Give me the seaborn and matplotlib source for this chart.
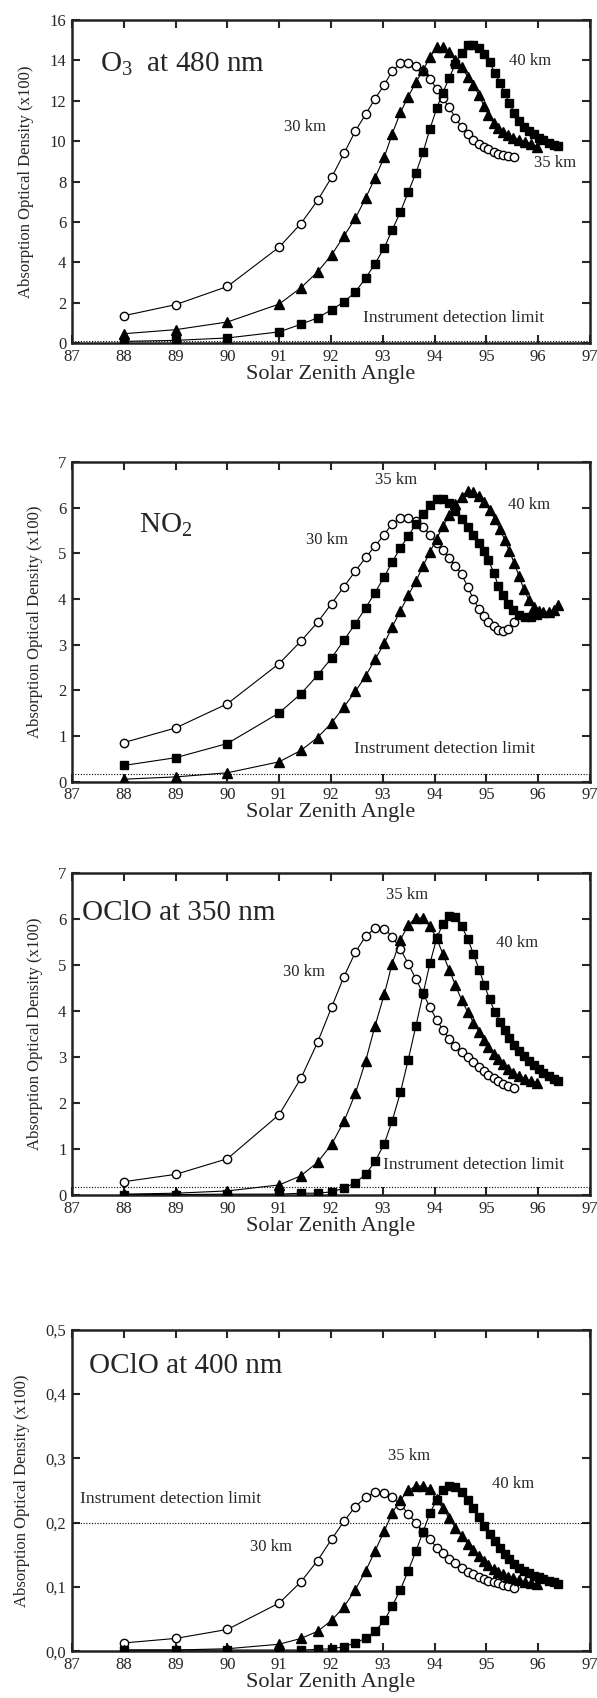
import matplotlib
matplotlib.use('Agg')
import matplotlib.pyplot as plt
import seaborn as sns
from matplotlib.ticker import MultipleLocator, FuncFormatter

# solar zenith angles of the three tangent altitudes
sza_30 = [88, 89, 90, 91, 91.42, 91.74, 92.01, 92.25, 92.47, 92.67, 92.85, 93.03, 93.18, 93.34, 93.49,
          93.64, 93.78, 93.91, 94.04, 94.16, 94.28, 94.40, 94.52, 94.64, 94.75, 94.86, 94.95, 95.04,
          95.14, 95.23, 95.32, 95.41, 95.53]
sza_35 = [88, 89, 90, 91, 91.42, 91.74, 92.01, 92.25, 92.47, 92.67, 92.85, 93.03, 93.18, 93.34, 93.49,
          93.64, 93.78, 93.91, 94.04, 94.16, 94.28, 94.40, 94.52, 94.64, 94.75, 94.86, 94.95, 95.04,
          95.14, 95.23, 95.32, 95.41, 95.52, 95.63, 95.74, 95.86, 95.98]
sza_40 = [88, 89, 90, 91, 91.42, 91.74, 92.01, 92.25, 92.47, 92.67, 92.85, 93.03, 93.18, 93.34, 93.49,
          93.64, 93.78, 93.91, 94.04, 94.16, 94.28, 94.40, 94.52, 94.64, 94.75, 94.86, 94.96, 95.06,
          95.16, 95.26, 95.35, 95.44, 95.54, 95.63, 95.72, 95.82, 95.91, 96.01, 96.10, 96.20, 96.30, 96.39]

# O3 at 480 nm
o3_30 = [1.35, 1.9, 2.8, 4.75, 5.92, 7.06, 8.2, 9.39, 10.5, 11.34, 12.1, 12.8, 13.47, 13.85, 13.88, 13.73,
         13.49, 13.07, 12.6, 12.13, 11.67, 11.17, 10.7, 10.36, 10.08, 9.88, 9.72, 9.59, 9.47, 9.37, 9.31,
         9.26, 9.19]
o3_35 = [0.46, 0.66, 1.04, 1.93, 2.74, 3.52, 4.36, 5.3, 6.18, 7.19, 8.18, 9.22, 10.35, 11.42, 12.2, 12.93,
         13.52, 14.17, 14.64, 14.64, 14.43, 14.0, 13.65, 13.2, 12.76, 12.28, 11.74, 11.29, 10.89, 10.63,
         10.43, 10.3, 10.18, 10.08, 9.98, 9.88, 9.72]
o3_40 = [0.08, 0.13, 0.25, 0.55, 0.93, 1.24, 1.65, 2.03, 2.53, 3.22, 3.93, 4.73, 5.59, 6.5, 7.47, 8.43,
         9.47, 10.61, 11.62, 12.41, 13.12, 13.82, 14.35, 14.76, 14.76, 14.6, 14.31, 13.9, 13.4, 12.89,
         12.41, 11.9, 11.4, 10.99, 10.71, 10.5, 10.33, 10.18, 10.07, 9.93, 9.83, 9.77]

# NO2
no2_30 = [0.86, 1.18, 1.71, 2.59, 3.08, 3.49, 3.9, 4.27, 4.61, 4.91, 5.16, 5.41, 5.65, 5.77, 5.77, 5.7,
          5.58, 5.4, 5.23, 5.07, 4.9, 4.73, 4.54, 4.27, 3.99, 3.78, 3.63, 3.5, 3.41, 3.33, 3.3, 3.35, 3.49]
no2_35 = [0.36, 0.53, 0.84, 1.51, 1.93, 2.33, 2.71, 3.1, 3.46, 3.81, 4.14, 4.49, 4.81, 5.12, 5.38, 5.64,
          5.85, 6.06, 6.19, 6.19, 6.09, 5.93, 5.76, 5.58, 5.4, 5.22, 5.05, 4.85, 4.58, 4.29, 4.08, 3.9,
          3.76, 3.65, 3.6, 3.6, 3.64]
no2_40 = [0.06, 0.11, 0.2, 0.44, 0.69, 0.97, 1.29, 1.64, 1.98, 2.32, 2.68, 3.03, 3.39, 3.74, 4.08, 4.39,
          4.73, 5.03, 5.32, 5.59, 5.83, 6.08, 6.24, 6.37, 6.35, 6.26, 6.12, 5.95, 5.75, 5.53, 5.3, 5.05,
          4.78, 4.5, 4.22, 3.98, 3.82, 3.74, 3.71, 3.72, 3.77, 3.87]

# OClO at 350 nm
oclo350_30 = [0.29, 0.45, 0.79, 1.75, 2.54, 3.32, 4.08, 4.75, 5.28, 5.63, 5.8, 5.79, 5.62, 5.35, 5.03,
              4.69, 4.38, 4.08, 3.81, 3.59, 3.4, 3.24, 3.11, 3.0, 2.89, 2.79, 2.7, 2.61, 2.54, 2.47,
              2.41, 2.37, 2.33]
oclo350_35 = [0.02, 0.04, 0.09, 0.22, 0.42, 0.71, 1.1, 1.6, 2.21, 2.92, 3.68, 4.37, 5.03, 5.55, 5.87,
              6.03, 6.02, 5.84, 5.58, 5.24, 4.9, 4.57, 4.24, 3.98, 3.75, 3.55, 3.37, 3.21, 3.07, 2.95,
              2.84, 2.74, 2.66, 2.59, 2.53, 2.48, 2.44]
oclo350_40 = [0.01, 0.01, 0.02, 0.02, 0.04, 0.04, 0.07, 0.15, 0.27, 0.45, 0.73, 1.12, 1.61, 2.23, 2.94,
              3.68, 4.39, 5.04, 5.58, 5.9, 6.06, 6.04, 5.85, 5.57, 5.24, 4.9, 4.57, 4.26, 3.99, 3.77,
              3.58, 3.41, 3.26, 3.14, 3.02, 2.92, 2.83, 2.74, 2.66, 2.59, 2.52, 2.47]

# OClO at 400 nm
oclo400_30 = [0.013, 0.02, 0.034, 0.075, 0.108, 0.141, 0.174, 0.202, 0.225, 0.239, 0.247, 0.246, 0.239,
              0.228, 0.214, 0.199, 0.186, 0.174, 0.161, 0.153, 0.144, 0.137, 0.13, 0.124, 0.12, 0.116,
              0.113, 0.11, 0.108, 0.106, 0.103, 0.101, 0.099]
oclo400_35 = [0.002, 0.002, 0.004, 0.011, 0.02, 0.031, 0.048, 0.069, 0.096, 0.125, 0.156, 0.187, 0.215,
              0.235, 0.25, 0.257, 0.257, 0.252, 0.236, 0.222, 0.207, 0.192, 0.179, 0.167, 0.157, 0.148,
              0.14, 0.134, 0.128, 0.123, 0.12, 0.116, 0.114, 0.111, 0.108, 0.106, 0.104]
oclo400_40 = [0.002, 0.002, 0.002, 0.002, 0.002, 0.003, 0.004, 0.007, 0.013, 0.02, 0.031, 0.048, 0.07,
              0.096, 0.125, 0.156, 0.186, 0.215, 0.235, 0.251, 0.257, 0.256, 0.248, 0.235, 0.222, 0.209,
              0.194, 0.183, 0.171, 0.161, 0.151, 0.143, 0.135, 0.13, 0.125, 0.121, 0.117, 0.115, 0.112,
              0.109, 0.107, 0.105]

detection_limits = [0.1, 0.18, 0.18, 0.2]

sns.set_style('ticks')
plt.rcParams['font.family'] = ['Liberation Serif', 'DejaVu Serif']
plt.rcParams['mathtext.default'] = 'regular'

fig = plt.figure(figsize=(5.97, 16.98), dpi=100)

# bottom, height in figure fraction
boxes = [(0.798, 0.1902), (0.5395, 0.1885), (0.2962, 0.1896), (0.0275, 0.1895)]

circle = dict(marker='o', markersize=6, markerfacecolor='white')
triangle = dict(marker='^', markersize=7, markerfacecolor='black')
square = dict(marker='s', markersize=5.5, markerfacecolor='black')

panels = [
    dict(series=[(sza_30, o3_30, circle), (sza_35, o3_35, triangle), (sza_40, o3_40, square)],
         ylim=16, ystep=2, title='O$_3$  at 480 nm', title_xy=(87.55, 13.8),
         labels=[('30 km', 91.5, 10.7), ('40 km', 95.85, 13.95), ('35 km', 96.33, 8.9)],
         limit_xy=(94.37, 1.25)),
    dict(series=[(sza_30, no2_30, circle), (sza_35, no2_35, square), (sza_40, no2_40, triangle)],
         ylim=7, ystep=1, title='NO$_2$', title_xy=(88.3, 5.6),
         labels=[('35 km', 93.25, 6.6), ('40 km', 95.82, 6.05), ('30 km', 91.92, 5.3)],
         limit_xy=(94.2, 0.72)),
    dict(series=[(sza_30, oclo350_30, circle), (sza_35, oclo350_35, triangle), (sza_40, oclo350_40, square)],
         ylim=7, ystep=1, title='OClO at 350 nm', title_xy=(87.2, 6.13),
         labels=[('35 km', 93.46, 6.53), ('40 km', 95.6, 5.48), ('30 km', 91.48, 4.86)],
         limit_xy=(94.75, 0.65)),
    dict(series=[(sza_30, oclo400_30, circle), (sza_35, oclo400_35, triangle), (sza_40, oclo400_40, square)],
         ylim=0.5, ystep=0.1, title='OClO at 400 nm', title_xy=(87.32, 0.443),
         labels=[('35 km', 93.5, 0.304), ('40 km', 95.52, 0.26), ('30 km', 90.85, 0.162)],
         limit_xy=(88.9, 0.237)),
]

for i, (panel, (bottom, height)) in enumerate(zip(panels, boxes)):
    ax = fig.add_axes([0.1206, bottom, 0.8677, height])
    ax.axhline(detection_limits[i], color='black', linestyle=(0, (1, 1.5)), linewidth=0.8, zorder=1)
    for x, y, style in panel['series']:
        sns.lineplot(x=x, y=y, ax=ax, color='black', linewidth=0.8, estimator=None, sort=False,
                     markeredgecolor='black', markeredgewidth=1.0, zorder=3, **style)
    ax.set_xlim(87, 97)
    ax.set_ylim(0, panel['ylim'])
    ax.xaxis.set_major_locator(MultipleLocator(1))
    ax.yaxis.set_major_locator(MultipleLocator(panel['ystep']))
    if panel['ylim'] < 1:
        ax.yaxis.set_major_formatter(FuncFormatter(lambda v, p: f'{v:.1f}'.replace('.', ',')))
    ax.tick_params(direction='in', top=True, right=True, length=6, width=1.5, labelsize=12, pad=4)
    for side in ax.spines.values():
        side.set_linewidth(1.8)
        side.set_color('#222222')
    ax.set_xlabel('Solar Zenith Angle', fontsize=16, labelpad=0)
    ax.set_ylabel('Absorption Optical Density (x100)', fontsize=12, labelpad=11)
    ax.text(*panel['title_xy'], panel['title'], fontsize=21, ha='left', va='center')
    for text, tx, ty in panel['labels']:
        ax.text(tx, ty, text, fontsize=12, ha='center', va='center')
    ax.text(*panel['limit_xy'], 'Instrument detection limit', fontsize=12.5, ha='center', va='center')

fig.savefig('out.png', dpi=100)
